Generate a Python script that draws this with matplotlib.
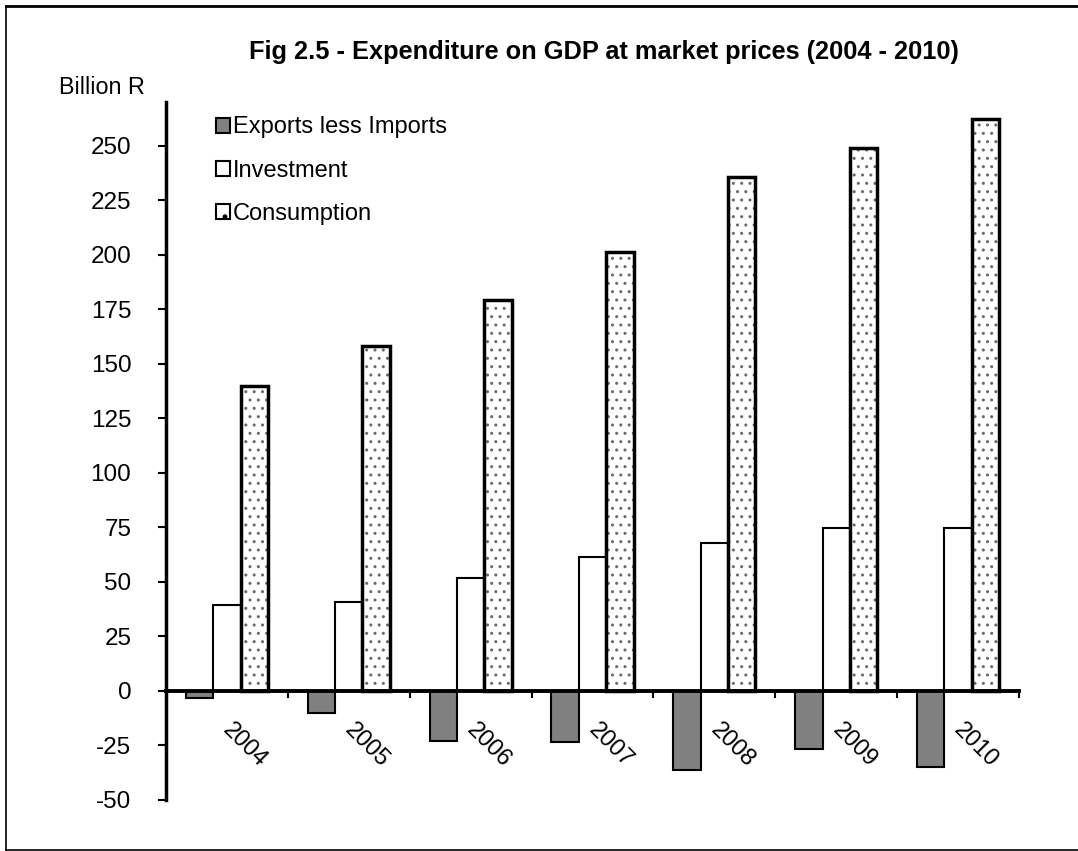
import matplotlib
matplotlib.use("Agg")
import matplotlib.pyplot as plt
from matplotlib.lines import Line2D
from matplotlib.patches import Patch
import numpy as np

years = ["2004", "2005", "2006", "2007", "2008", "2009", "2010"]
exports_less_imports = [-3.4, -10.2, -23.0, -23.5, -36.3, -26.7, -35.1]
investment = [39.5, 41.0, 51.8, 61.5, 67.7, 74.6, 74.6]
consumption = [139.9, 158.0, 179.2, 201.2, 235.8, 248.9, 262.2]
series_labels = ["Exports less Imports", "Investment", "Consumption"]
yticks = [-50, -25, 0, 25, 50, 75, 100, 125, 150, 175, 200, 225, 250]

plt.rcParams['font.family'] = ['Liberation Sans', 'DejaVu Sans']
plt.rcParams['hatch.linewidth'] = 1.0

W, H = 1078, 851
fig = plt.figure(figsize=(W / 100, H / 100), dpi=100)
ax = fig.add_axes([166 / W, 1 - 800 / H, (1019 - 166) / W, (800 - 102) / H])

x = np.arange(len(years))
bw = 0.225
ax.bar(x - bw, exports_less_imports, bw, color='#808080', edgecolor='black', linewidth=1.5,
       label=series_labels[0], zorder=2)
ax.bar(x, investment, bw, color='white', edgecolor='black', linewidth=1.5,
       label=series_labels[1], zorder=2)
# hatch layer (grey dots), then black outline on top
ax.bar(x + bw, consumption, bw, color='white', edgecolor='#6a6a6a', linewidth=0,
       hatch='..', zorder=2)
ax.bar(x + bw, consumption, bw, fill=False, edgecolor='black', linewidth=2.5,
       label=series_labels[2], zorder=2.1)

ax.set_xlim(-0.5, len(years) - 0.5)
ax.set_ylim(-50, 270)
ax.set_yticks(yticks)
ax.set_yticklabels([str(v) for v in yticks])

ax.spines['top'].set_visible(False)
ax.spines['right'].set_visible(False)
ax.spines['bottom'].set_position(('data', 0))
ax.spines['bottom'].set_linewidth(2.8)
ax.spines['left'].set_linewidth(2.5)
ax.spines['bottom'].set_zorder(3)

ax.set_xticks(np.arange(len(years)) + 0.5)
ax.set_xticklabels([])
ax.tick_params(axis='x', direction='out', length=5, width=1.5)
ax.tick_params(axis='y', direction='out', length=6, width=1.5, labelsize=17.5, pad=19)

for i, yr in enumerate(years):
    ax.annotate(yr, xy=(i, 0), xycoords='data', xytext=(13, -39), textcoords='offset points',
                rotation=-45, ha='center', va='center', fontsize=17)

handles = [Patch(facecolor='#808080', edgecolor='black', linewidth=1.5),
           Patch(facecolor='white', edgecolor='black', linewidth=1.5),
           Patch(facecolor='white', edgecolor='black', linewidth=1.5, hatch='.')]
ax.legend(handles, series_labels, loc='upper left', bbox_to_anchor=(33 / (1019 - 166), 1.003),
          frameon=False, fontsize=17, handlelength=0.6, handleheight=0.6,
          handletextpad=0.12, labelspacing=0.9, borderaxespad=0.3)

fig.text(604 / W, 1 - 52 / H, "Fig 2.5 - Expenditure on GDP at market prices (2004 - 2010)",
         ha='center', va='center', fontsize=18.3, fontweight='bold')
fig.text(102 / W, 1 - 87 / H, "Billion R", ha='center', va='center', fontsize=16.8)

# outer border
fig.add_artist(Line2D([6 / W, 1.0], [1 - 6 / H, 1 - 6 / H], transform=fig.transFigure,
                      color='black', linewidth=2))
fig.add_artist(Line2D([6 / W, 6 / W], [1 - 6 / H, 1 - 850 / H], transform=fig.transFigure,
                      color='black', linewidth=1.2))
fig.add_artist(Line2D([6 / W, 1.0], [1 - 850 / H, 1 - 850 / H], transform=fig.transFigure,
                      color='black', linewidth=1.2))

fig.savefig("out.png", dpi=100)
